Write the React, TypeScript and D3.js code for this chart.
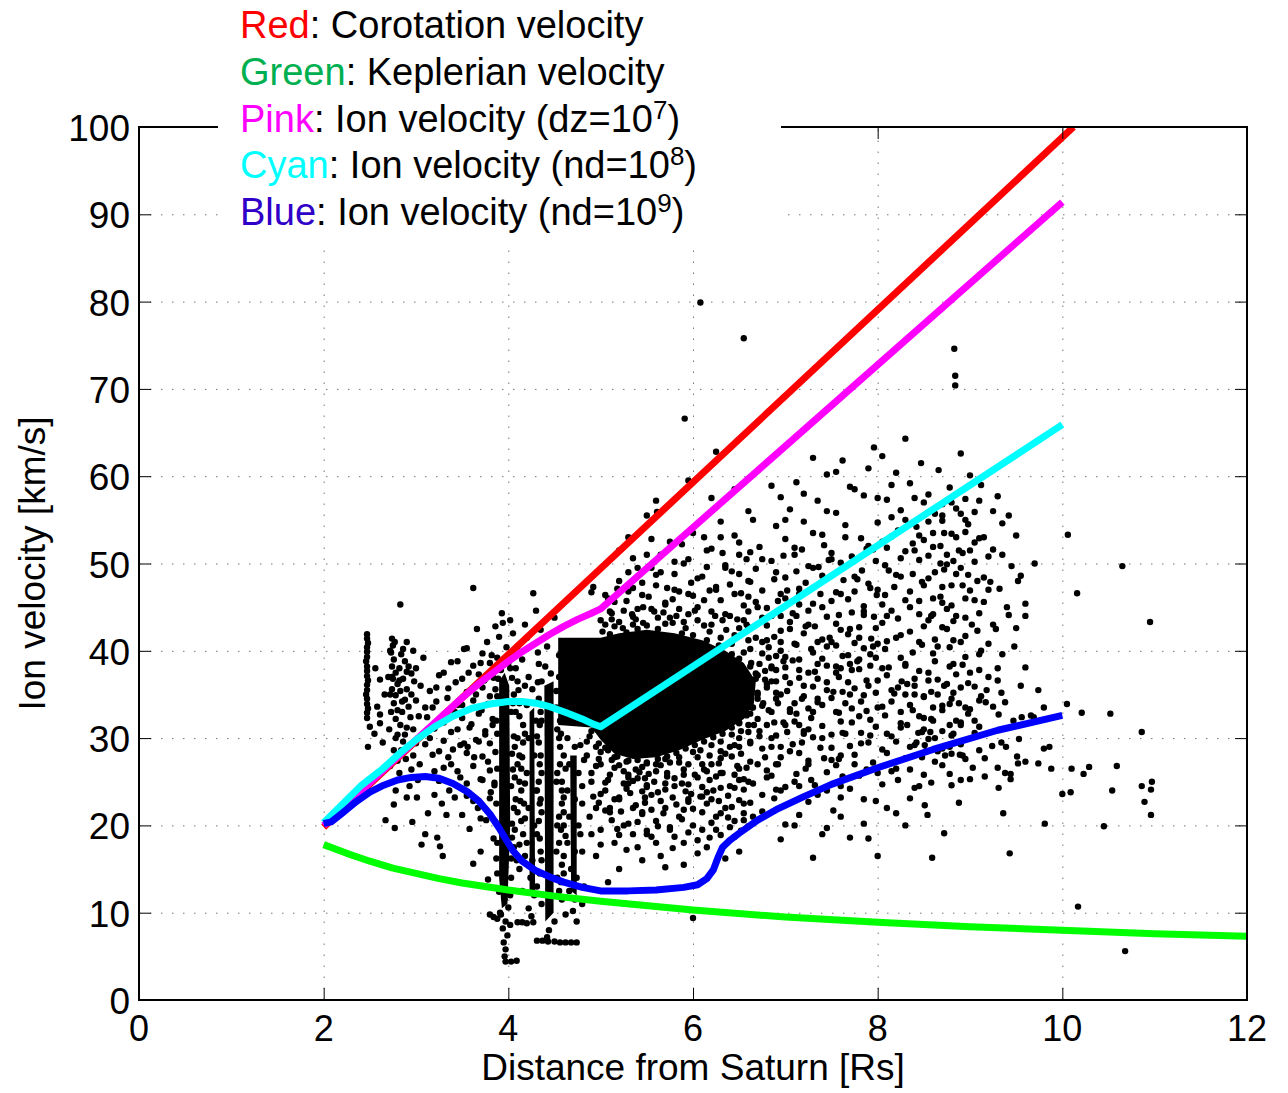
import React, { useEffect, useRef } from 'react'
import { select, scaleLinear, line } from 'd3'

// axes
const xTicks = [0, 2, 4, 6, 8, 10, 12]
const yTicks = [0, 10, 20, 30, 40, 50, 60, 70, 80, 90, 100]

// model curves [r (Rs), v (km/s)]
const corotation = [[2, 19.8], [10.12, 100]]
const keplerian = [[2, 17.8], [2.25, 16.8], [2.5, 15.9], [2.75, 15.1], [3, 14.5], [3.25, 13.9], [3.5, 13.4], [4, 12.6], [4.5, 11.9], [5, 11.3], [6, 10.3], [7, 9.5], [8, 8.9], [9, 8.4], [10, 8.0], [11, 7.6], [12, 7.3]]
const pinkIon = [[2, 20], [3, 29.8], [3.5, 34.6], [3.7, 36.4], [3.85, 37.6], [4.0, 38.8], [4.15, 39.9], [4.3, 40.9], [4.45, 41.9], [4.6, 42.8], [4.75, 43.6], [4.9, 44.3], [5.0, 44.8], [10, 91.4]]
const cyanIon = [[2, 20.3], [2.2, 22.4], [2.4, 24.5], [2.64, 26.5], [2.85, 28.5], [3.0, 29.8], [3.2, 31.3], [3.4, 32.5], [3.6, 33.4], [3.8, 33.9], [4.0, 34.2], [4.15, 34.2], [4.3, 34.0], [4.45, 33.6], [4.63, 32.9], [4.8, 32.2], [4.92, 31.6], [5.0, 31.3], [10, 65.9]]
const blueIon = [[2, 20.2], [2.08, 20.4], [2.2, 21.4], [2.35, 22.7], [2.5, 23.8], [2.65, 24.6], [2.8, 25.2], [2.95, 25.5], [3.1, 25.6], [3.25, 25.4], [3.4, 24.8], [3.55, 23.9], [3.68, 22.8], [3.8, 21.3], [3.9, 19.7], [3.98, 18.3], [4.05, 17.1], [4.15, 15.9], [4.3, 14.8], [4.45, 14.1], [4.6, 13.5], [4.8, 12.9], [5.0, 12.5], [5.3, 12.5], [5.6, 12.6], [5.9, 12.9], [6.05, 13.2], [6.15, 13.9], [6.22, 14.9], [6.27, 16.3], [6.32, 17.5], [6.4, 18.3], [6.5, 19.1], [6.7, 20.6], [6.9, 21.8], [7.2, 23.3], [7.5, 24.7], [8.0, 26.6], [8.6, 28.7], [9.3, 30.9], [10, 32.6]]

// regions where the measurements are so dense they merge into solid black
const denseCores = [
    [[4.54, 41.5], [5.0, 41.5], [5.2, 42.0], [5.5, 42.4], [5.8, 42.0], [6.1, 41.2], [6.35, 40.0], [6.55, 38.6], [6.68, 36.5], [6.66, 34.0], [6.55, 32.2], [6.35, 30.8], [6.1, 29.8], [5.85, 28.6], [5.6, 27.8], [5.35, 27.6], [5.15, 28.2], [5.0, 29.8], [4.9, 31.2], [4.54, 31.5]],
    [[3.9, 36.5], [3.96, 37.5], [4.01, 36], [4.02, 20], [3.99, 11], [3.93, 10.5], [3.9, 14]],
    [[4.23, 33], [4.28, 33.5], [4.29, 12], [4.23, 12.5]],
    [[4.39, 36], [4.49, 36.5], [4.49, 10], [4.4, 9]],
    [[4.67, 28], [4.74, 28], [4.74, 12], [4.68, 12.5]],
]

// individual measurements, "r,v": inner magnetosphere (r < 5)
const ionSamplesInner = `
2.47,32.3 2.47,32.9 2.48,33.4 2.47,33.9 2.47,34.5 2.46,35.0 2.47,35.5 2.47,36.1 2.48,36.6 2.47,37.1
2.47,37.7 2.47,38.2 2.46,38.8 2.47,39.3 2.47,39.9 2.47,40.4 2.48,40.9 2.47,41.4 2.47,41.9
2.48,29.0 2.5,31.3 2.61,31.7 2.61,32.7 2.58,33.6 2.56,38.0 2.61,36.7 2.7,37.0 2.67,20.6 2.77,19.7
2.83,45.3 2.9,23.2 3.01,23.2 3.06,17.8 2.55,30.5 2.66,35.0 2.64,29.5
2.74,41.4 2.75,40.6 2.73,39.8 2.76,39.0 2.74,38.2 2.78,37.5 2.75,36.8 2.8,36.2 2.74,35.6 2.78,34.9
2.83,35.4 2.86,36.8 2.82,38.0 2.9,37.6 2.88,34.4 2.76,34.0 2.8,33.2 2.85,33.0 2.92,33.6 2.95,35.0
2.98,36.5 3.0,34.3 2.94,32.4 2.78,32.2 2.83,31.5 2.9,31.2 2.97,31.0 3.03,32.5 2.8,30.4 2.86,29.6
2.92,29.0 2.76,28.6 3.0,29.4 2.89,27.6 2.95,26.4 2.82,26.0 3.04,27.0 2.78,24.0 2.93,24.5 3.08,39.2
3.05,36.0 2.97,40.0 2.84,39.6 2.9,41.0 3.1,33.5
2.72,40.0 2.77,41.0 2.74,37.0 2.72,35.0 2.73,33.0 2.71,31.0 2.86,40.2 2.88,38.8 2.92,38.2 2.82,36.6
2.95,37.4 3.0,38.0 2.85,34.2 2.9,35.6 2.78,30.0 2.84,28.6 2.88,30.4 2.97,28.0 2.72,26.8 2.8,27.4
3.02,25.2 2.76,22.4
2.96,20.4 3.13,21.4 3.2,23.5 3.23,18.6 3.26,17.6 3.29,16.5 3.33,21.2 3.1,19.0
3.15,30.0 3.18,33.5 3.22,35.8 3.25,28.5 3.3,31.8 3.34,34.6 3.38,27.0 3.4,28.7 3.43,36.4 3.45,31.0
3.48,25.5 3.5,33.8 3.52,29.4 3.55,23.4 3.57,37.5 3.6,31.6 3.62,47.2 3.63,27.8 3.65,35.0 3.67,22.0
3.68,29.6 3.7,38.6 3.71,33.2 3.72,25.2 3.74,36.6 3.75,30.4 3.76,20.6 3.77,41.0 3.78,27.3 3.8,34.8
3.81,23.8 3.82,39.5 3.83,31.5 3.84,18.5 3.2,26.2 3.36,24.0 3.58,19.6 3.45,38.8 3.3,37.5 3.66,42.5
3.52,40.2 3.28,22.5 3.62,15.6 3.7,17.0 3.78,13.8 3.56,29.0 3.42,33.0
3.55,40.3 3.72,39.7 3.38,38.7 3.62,38.3 3.8,38.6 3.25,37.2 3.5,36.8 3.68,37.3 3.84,36.9 3.15,35.4
3.35,35.7 3.55,35.3 3.72,35.8 3.22,34.2 3.45,33.8 3.62,34.3 3.78,33.9 3.12,32.4 3.3,32.7 3.5,32.3
3.68,32.8 3.83,32.2 3.2,31.1 3.38,30.7 3.58,31.2 3.75,30.8 3.1,29.3 3.3,29.7 3.48,29.2 3.65,29.8
3.8,29.4 3.18,28.1 3.35,27.8 3.55,28.3 3.72,27.9 3.3,26.6 3.45,26.2 3.62,26.8 3.8,26.3 3.25,25.1
3.55,24.8 3.7,25.3 3.85,24.9 3.42,23.2 3.62,22.8 3.8,23.1 3.5,21.2 3.7,20.8
3.86,42.8 3.9,41.6 3.94,43.2 3.98,40.4 3.88,39.2 4.0,38.6 3.92,37.8 4.04,36.9 3.86,35.6 4.05,34.0
3.87,32.0 4.06,30.2 3.86,28.4 4.05,26.4 3.85,24.6 4.06,22.0 3.86,20.4 4.04,18.6 3.87,16.2 4.03,14.0
3.9,12.4 3.96,11.6 4.0,10.6 3.92,9.8 3.97,9.0 3.94,8.2 3.99,7.4 3.95,6.6 3.97,5.8 3.96,5.0
3.97,4.4 4.03,4.4 4.09,4.5 3.91,10.0 3.88,9.3 3.84,9.5 3.8,9.8 4.02,8.6
3.88,34.8 4.03,33.0 3.88,30.5 4.04,28.2 3.88,26.5 4.03,24.5 3.87,22.5 4.04,20.2 3.88,18.0 4.03,16.2
3.88,14.5 4.02,12.0 3.89,36.8 4.02,38.0
4.22,37.0 4.26,35.6 4.2,33.8 4.3,32.0 4.22,30.0 4.28,28.0 4.2,26.0 4.3,24.0 4.22,22.0 4.28,20.0
4.2,18.0 4.26,16.0 4.24,14.0 4.28,12.0 4.22,10.5 4.25,9.6 4.1,8.9 4.15,8.9 4.2,8.8 4.27,8.9
4.4,38.2 4.46,37.4 4.36,36.5 4.52,35.4 4.35,33.0 4.53,31.0 4.35,28.0 4.53,26.0 4.35,23.0 4.53,20.0
4.35,17.0 4.53,14.0 4.36,11.0 4.5,9.0 4.44,8.0 4.42,7.2 4.31,6.8 4.37,6.8 4.43,6.7 4.5,6.7
4.56,6.6 4.62,6.6 4.68,6.6 4.74,6.6
4.64,30.0 4.72,29.0 4.66,27.0 4.76,26.0 4.64,24.0 4.72,23.0 4.66,21.0 4.76,20.0 4.64,18.0 4.72,17.0
4.68,15.0 4.74,14.0 4.66,12.5 4.72,11.5 4.7,10.2 4.74,9.0 4.58,25 4.6,20.0 4.8,22.5 4.8,17
4.58,15.5 4.82,27.5
4.1,30.0 4.12,25.0 4.14,20.5 4.11,35.5 4.15,39.0 4.58,34.0 4.56,29.0 4.6,37.5 4.12,15.0 4.15,12.5
4.08,33.0 4.12,28.0 4.16,31.5 4.08,23.0 4.33,34.5 4.33,29.5 4.33,25.0 4.33,20.5 4.56,32.0 4.56,27.0
4.58,22.5 4.1,36.5 4.18,36.0 4.14,26.5 4.06,17.5 4.17,22.5 4.55,18.0 4.58,11.5
4.08,38.0 4.12,34.0 4.16,29.5 4.1,27.0 4.14,24.0 4.1,21.5 4.16,19.0 4.09,16.0 4.33,38.5 4.34,31.5
4.34,27.0 4.34,22.5 4.34,18.5 4.34,14.5 4.57,35.5 4.57,30.5 4.6,28.0 4.58,24.0 4.6,21.5 4.57,19.5
4.6,16.5 4.57,13.5
4.06,35.0 4.12,32.5 4.18,30.5 4.07,29.0 4.15,27.8 4.07,25.5 4.18,24.8 4.13,22.8 4.07,19.5 4.18,20.8
4.12,17.8 4.18,16.5 4.32,36.4 4.36,32.0 4.31,30.2 4.36,26.0 4.31,24.0 4.36,21.5 4.31,19.0 4.36,16.0
4.31,13.0 4.55,37.0 4.52,33.5 4.6,32.6 4.55,30.0 4.62,26.5 4.52,25.0 4.6,23.2 4.55,21.0 4.62,18.8
4.52,17.0 4.6,14.5 4.55,12.5 4.62,9.8 4.78,19.0 4.8,24.5 4.78,29.2 4.82,13.0 4.8,11.0
4.05,42.0 4.1,40.5 4.2,41.5 4.32,39.8 4.35,42.4 4.42,40.5 4.5,43.8 4.55,39.5 4.3,44.6 4.18,43.0
3.93,44.3 4.02,43.5 4.27,46.6 4.9,46.7 4.92,47.3
`

// individual measurements, "r,v": outer cloud (r >= 5)
const ionSamplesOuter = `
5.1,44.5
4.9,30.8 4.98,29.4 5.08,28.6 5.18,27.9 5.28,27.3 5.4,27.5 5.5,27.2 5.62,27.6 5.72,27.9 5.82,28.3
5.92,28.8 6.02,29.2 6.12,29.6 6.22,30.1 6.32,30.5 6.42,31.2 6.5,31.7 6.58,32.6 6.64,33.5 6.7,35.2
6.68,37.4 6.62,38.2 6.5,39.1 6.42,39.6 6.28,40.6 6.15,41.2 6.0,41.8 5.88,42.0 5.62,42.5 5.4,42.5
5.28,42.1 5.1,41.9
5.0,43.5 5.08,46.0 5.15,42.8 5.2,48.0 5.25,44.6 5.3,46.8 5.35,43.9 5.4,49.5 5.45,46.4 5.46,45.0
5.5,51.0 5.55,44.8 5.6,47.5 5.6,57.2 5.61,55.9 5.65,49.0 5.7,45.5 5.75,52.5 5.8,47.0 5.85,44.8
5.9,50.0 5.95,46.5 6.0,53.5 6.05,45.0 6.1,48.5 6.15,51.5 6.2,44.5 6.25,47.0 6.3,53.0 6.35,49.5
6.4,44.0 6.45,46.5 6.5,51.0 6.55,43.5 6.6,48.0 6.65,55.0 6.7,45.0 6.75,50.5 5.91,66.6 6.25,62.8
6.08,79.9 6.55,75.8 5.3,53.0 5.5,55.5 6.2,57.5 6.45,58.5 5.2,51.5 5.95,59.5
5.05,43.0 5.2,43.3 5.38,43.6 5.5,42.9 5.62,43.8 5.78,43.2 5.92,42.6 6.05,43.5 6.18,42.2 6.3,41.5
6.42,40.8 6.55,39.8 6.63,38.6 6.68,36.8 6.7,34.5 6.62,32.8 6.5,31.8
6.68,41.5 6.72,38.5 6.7,35.0 6.66,31.5 6.5,30.0 6.3,28.5 6.1,27.0 5.9,25.8 5.7,24.8 5.5,24.6
5.3,24.8 5.1,25.8 4.98,27.6 4.85,29.6 6.45,41.8 6.2,43.0 5.75,43.8 5.35,43.0
5.02,42.2 5.12,43.6 5.24,42.6 5.34,44.2 5.46,43.2 5.58,44.5 5.7,43.1 5.82,44.0 5.9,43.3 6.02,44.6
6.12,42.9 6.24,44.0 6.36,42.4 6.48,43.6 6.6,41.2 6.58,43.0
6.62,40.2 6.75,41.0 6.82,39.2 6.7,37.2 6.8,36.2 6.9,37.8 6.76,34.0 6.85,33.0 6.95,35.0 6.72,30.8
6.88,31.8 6.62,29.4 6.95,29.0 6.98,38.8 6.95,40.0
5.05,28.9 5.15,27.8 5.25,26.2 5.38,26.4 5.48,25.4 5.6,27.0 5.72,26.0 5.85,27.8 5.95,27.0 6.08,28.6
6.18,28.0 6.3,29.6 6.4,29.0 6.52,30.8 4.95,29.0 5.02,30.4 4.88,30.2
4.88,21.0 4.9,19.0 5.0,17.8 5.18,19.6 5.28,17.2 5.35,19.0 5.6,18.0 5.78,17.4 5.95,19.2 6.18,18.6
6.4,19.8 5.45,16.0 5.7,15.2 6.25,21.0 6.55,20.6
5.0,27.0 5.15,26.6 5.3,25.8 5.45,26.7 5.6,26.2 5.75,27.2 5.9,26.4 6.05,27.8 6.2,27.0 6.35,28.2
6.5,29.0 6.6,31.5 6.65,33.5 4.9,26.0 5.08,25.2 5.25,24.8 5.4,25.4 5.58,25.0 5.72,25.6 5.88,24.8
6.02,25.8 6.18,25.2 6.32,26.0 6.48,26.8 5.0,23.6 5.15,23.0 5.32,23.7 5.48,23.2 5.62,23.8 5.78,23.2
5.92,23.9 6.08,23.3 6.22,24.0 6.38,23.4 6.55,24.1 5.1,22.0 5.38,22.3 5.55,21.8 5.82,22.4 6.0,21.9
6.15,22.5 6.42,22.1 6.62,22.6
4.85,28.0 4.9,25.0 4.95,22.0 5.0,19.5 5.05,24.0 5.1,21.5 5.12,27.5 5.15,18.0 5.2,23.0 5.25,20.0
5.3,25.5 5.35,22.0 5.4,17.5 5.45,21.5 5.5,19.0 5.55,23.5 5.6,20.5 5.65,16.5 5.7,22.0 5.75,19.5
5.8,24.5 5.85,21.0 5.9,18.0 5.95,23.0 6.0,20.0 6.05,25.5 6.1,21.5 6.15,17.5 6.2,23.0 6.25,19.5
6.3,26.0 6.35,22.0 6.4,24.5 6.45,20.5 6.5,26.5 6.55,22.5 6.6,25.0 6.65,21.0 6.7,27.0 6.75,23.5
6.8,25.5 6.0,9.4 6.5,17.0 6.35,16.2 5.9,15.5 6.05,16.8 4.95,16.5 5.2,15.0 5.08,13.5
5.0,28.4 5.3,27.4 5.5,27.1 5.7,27.6 6.0,28.4 6.2,29.2 6.42,30.4 4.95,26.8 5.2,26.9 5.42,26.1
5.65,26.9 5.85,27.2 6.12,26.4 6.28,27.1 6.42,27.9 5.05,24.9 5.35,25.1 5.52,25.9 5.8,25.4 6.1,24.4
6.25,25.6 6.5,25.2 4.92,23.3 5.28,24.2 5.45,23.9 5.7,24.1 5.98,23.6 6.15,23.8 6.45,24.3 4.98,22.6
5.22,21.6 5.48,22.6 5.68,21.4 5.95,22.7 6.28,22.8 6.55,21.4 5.12,20.6 5.4,20.4 5.62,19.9 5.88,20.7
6.1,19.5 6.38,20.9 6.52,19.4 5.2,18.9 5.5,19.4 5.8,18.7 6.3,18.9
5.12,44.3 5.4,44.8 5.68,44.4 5.95,44.2 6.32,43.5 6.5,42.6 5.05,46.4 5.28,45.7 5.52,46.2 5.78,45.9
6.0,46.3 6.3,45.8 6.6,46.2 5.18,47.1 5.45,47.8 5.72,47.2 5.98,47.8 6.18,46.9 6.4,47.6 5.3,49.0
5.55,49.5 5.8,48.8 6.15,49.6 6.42,49.1 5.35,50.6 5.65,51.0 5.95,50.5 6.32,51.2 5.55,52.8 5.88,52.2
6.12,53.0 6.5,52.4
6.85,30.0 6.85,38.0 6.85,44.0 6.9,27.0 6.9,34.5 6.9,49.0 6.95,41.0 6.95,24.0 7.0,31.5 7.0,37.0
7.0,46.0 7.0,55.0 7.05,28.5 7.05,42.5 7.1,34.0 7.1,51.0 7.1,25.0 7.15,39.0 7.15,46.5 7.2,30.5
7.2,36.0 7.2,58.0 7.25,43.0 7.25,27.0 7.3,33.0 7.3,49.5 7.3,53.5 7.35,38.5 7.35,23.5 7.4,30.0
7.4,45.0 7.45,35.5 7.45,56.0 7.5,27.5 7.5,41.0 7.5,50.5 7.55,33.0 7.55,60.5 7.6,38.0 7.6,24.5
7.6,46.5 7.65,30.5 7.65,53.0 7.7,35.0 7.7,42.5 7.75,27.0 7.75,48.5 7.75,58.5 7.8,32.5 7.8,39.0
7.85,44.5 7.85,23.0 7.9,29.5 7.9,36.0 7.9,52.0 7.95,40.5 7.96,63.3 8.0,33.5 8.0,47.0 8.0,26.0
8.0,57.5 6.9,36.5 7.05,33.0 7.15,31.5 7.25,37.5 7.35,34.5 7.45,40.5 7.55,37.5 7.65,34.0 7.7,38.5
7.8,41.5 7.35,41.0 7.12,44.0 6.95,46.5 7.6,28.0 7.25,31.0
6.72,51.9 7.18,51.6 7.42,52.1 7.88,51.7 6.58,50.5 6.98,50.9 7.47,50.4 7.72,50.8 7.98,50.3 6.68,49.4
7.12,49.1 7.36,49.6 7.83,49.2 6.62,47.9 6.88,48.2 7.22,47.8 7.63,48.1 7.9,47.7 6.52,46.6 7.02,46.9
7.38,46.5 7.75,46.8 7.99,46.4 6.68,45.6 6.8,44.9 7.15,45.3 7.5,45.7 7.85,45.1 6.6,44.5 6.95,44.0
7.25,44.6 7.58,44.1 7.72,44.4 7.96,43.9 6.8,42.9 7.05,43.3 7.32,42.8 7.55,43.1 7.8,42.7 6.88,41.6
7.2,42.0 7.48,41.5 7.68,41.9 7.93,41.4 6.82,40.4 7.12,40.7 7.28,40.2 7.55,40.6 7.85,40.3 8.0,40.8
6.9,39.4 7.08,38.9 7.4,39.1 7.68,39.5 7.78,38.8 7.98,39.2 6.78,37.7 7.0,38.1 7.32,37.6 7.55,38.2
7.72,37.8 7.92,38.3 6.85,36.5 7.15,36.9 7.45,36.4 7.58,37.0 7.88,36.6 6.8,35.8 7.02,35.4 7.3,35.9
7.62,35.3 7.75,35.7 7.98,35.2 6.92,34.0 7.18,34.5 7.35,34.1 7.5,34.6 7.82,34.2 6.82,33.2 7.12,32.8
7.25,33.4 7.58,32.9 7.88,33.1 6.8,31.5 7.1,31.9 7.4,31.4 7.72,31.8 7.98,31.3 6.72,30.2 7.02,30.7
7.3,30.1 7.62,30.6 7.92,30.3 6.62,29.6 6.85,29.0 7.18,29.5 7.5,28.9 7.82,29.4 6.52,28.2 6.78,27.8
7.15,28.3 7.42,27.7 7.75,28.1 6.58,26.6 6.92,27.0 7.22,26.5 7.55,26.9 7.88,26.4 6.55,25.3 6.85,25.7
7.28,25.2 7.62,25.6 6.9,24.1 7.15,24.5 7.45,24.0
7.62,61.8 8.05,62.3 8.47,61.5 8.9,62.6 7.3,62.1 7.45,60.2 7.9,60.9 8.2,60.4 8.66,60.7 9.0,60.1
7.12,59.3 7.7,58.8 8.35,59.2 8.78,58.7 9.12,59.0 6.85,58.9 6.95,57.6 7.35,57.2 7.85,57.8 8.1,57.3
8.55,57.9 8.95,57.4 9.3,57.7 7.05,56.2 7.55,55.8 8.25,56.1 8.62,55.7 8.85,56.3 9.05,55.9 6.6,56.0
6.9,54.3 7.2,54.8 7.65,54.4 8.0,54.7 8.42,54.2 8.7,54.9 8.98,54.5 9.35,54.6 6.3,54.8 6.45,53.2
7.0,52.8 7.4,53.3 7.82,52.9 8.15,53.1 8.5,52.7 8.8,53.4 9.1,52.9 9.5,53.2 6.2,51.7 6.62,51.3
7.1,51.8 7.5,51.2 7.95,51.6 8.3,51.4 8.6,51.9 8.92,51.2 9.25,51.6 5.8,50.2 6.35,49.8 6.85,50.3
7.25,49.7 7.6,50.1 8.08,49.8 8.45,50.4 8.75,49.9 9.05,50.2 9.45,49.7 5.6,48.7 6.05,48.3 6.5,48.8
7.0,48.4 7.4,48.6 7.78,48.2 8.2,48.7 8.55,48.3 8.85,48.8 9.15,48.4 9.55,48.6 5.35,47.2 5.85,46.8
6.25,47.3 6.75,46.9 7.15,47.1 7.55,46.7 7.92,47.2 8.35,46.8 8.7,47.3 9.0,46.9 9.32,47.1 5.15,45.6
5.7,45.3 6.12,45.8 6.55,45.2 6.92,45.7 7.3,45.4 7.68,45.9 8.05,45.3 8.45,45.7 8.8,45.2 9.15,45.6
9.6,45.4 6.35,44.2 6.75,43.8 7.08,44.3 7.45,43.9 7.85,44.1 8.22,43.7 8.6,44.2 8.95,43.8 9.42,44.1
6.6,42.7 6.95,42.3 7.22,42.8 7.6,42.4 7.98,42.6 8.35,42.2 8.7,42.7 9.08,42.3 9.5,42.6 6.8,41.2
7.1,40.8 7.4,41.3 7.75,40.9 8.1,41.1 8.48,40.7 8.82,41.2 9.2,40.8 6.75,39.7 7.0,39.3 7.3,39.8
7.62,39.4 7.92,39.6 8.25,39.2 8.6,39.7 8.95,39.3 9.35,39.6 6.85,38.2 7.15,37.8 7.45,38.3 7.8,37.9
8.12,38.1 8.45,37.7 8.78,38.2 9.1,37.8 9.6,38.1 6.78,36.7 7.05,36.3 7.35,36.8 7.68,36.4 8.0,36.6
8.32,36.2 8.65,36.7 8.98,36.3 9.3,36.6 6.9,35.2 7.2,34.8 7.52,35.3 7.85,34.9 8.18,35.1 8.5,34.7
8.82,35.2 9.12,34.8 6.75,33.7 7.05,33.3 7.4,33.8 7.72,33.4 8.05,33.6 8.38,33.2 8.7,33.7 9.0,33.3
9.25,33.6 6.7,32.2 6.98,31.8 7.28,32.3 7.6,31.9 7.92,32.1 8.25,31.7 8.58,32.2 8.9,31.8 6.6,30.7
6.9,30.3 7.2,30.8 7.5,30.4 7.82,30.6 8.15,30.2 8.48,30.7 8.8,30.3 9.05,30.6 6.45,29.2 6.75,28.8
7.08,29.3 7.38,28.9 7.7,29.1 8.05,28.7 8.4,29.2 8.7,28.8 6.3,27.7 6.62,27.3 6.95,27.8 7.25,27.4
7.58,27.6 7.95,27.2 8.3,27.7 8.62,27.3 8.95,27.6 6.15,26.2 6.45,25.8 6.8,26.3 7.12,25.9 7.45,26.1
7.8,25.7 8.15,26.2 8.5,25.8 5.5,24.4 5.95,24.7 6.3,24.3 6.65,24.8 7.0,24.4 7.32,24.6 7.7,24.2
8.05,24.7 8.4,24.3 8.8,24.6 5.2,23.2 5.65,22.8 6.1,23.3 6.5,22.9 6.88,23.1 7.25,22.7 7.6,23.2
7.98,22.8 8.35,23.1 5.05,21.7 5.45,21.3 5.9,21.8 6.3,21.4 6.75,21.6 7.15,21.2 7.52,21.7 8.2,21.4
5.3,20.2 5.75,19.8 6.2,20.3 6.6,19.9 7.0,20.1 7.45,19.7 7.85,20.2 5.55,18.7 6.05,18.3 6.45,18.7
6.95,18.4 7.7,18.6
8.05,38.0 8.05,52.5 8.1,30.5 8.1,44.0 8.15,35.5 8.15,59.0 8.2,41.5 8.2,26.5 8.25,48.5 8.25,33.0
8.3,64.3 8.3,38.5 8.3,55.0 8.35,29.0 8.35,45.0 8.4,35.0 8.4,51.5 8.45,41.0 8.45,24.5 8.5,47.5
8.5,31.0 8.5,57.0 8.55,37.5 8.55,43.5 8.6,53.5 8.6,33.5 8.62,49.0 8.65,40.5 8.65,28.5 8.7,45.5
8.7,55.5 8.72,36.0 8.75,51.0 8.75,42.5 8.78,31.5 8.8,47.5 8.8,57.0 8.82,38.5 8.85,44.0 8.85,53.0
8.88,34.0 8.9,49.5 8.9,41.0 8.92,28.0 8.95,46.0 8.95,55.0 9.0,37.5 9.0,51.5 9.02,43.0 9.05,32.0
9.08,48.0 8.83,74.6 8.84,71.5 8.84,70.4 8.6,46.0 8.68,50.0 8.58,44.0 8.88,51.5 8.72,53.5
8.26,36.5 8.3,35.0 8.35,33.8 8.4,36.0 8.45,32.5 8.5,34.8 8.55,36.6 8.6,32.0 8.65,35.0 8.7,33.2
8.75,36.2 8.8,34.5 8.85,32.0 8.9,35.8 8.95,33.5 8.32,31.5 8.42,29.5 8.62,30.0 8.82,30.5 8.9,31.5
8.4,57.5 8.7,56.8 9.1,57.2 8.15,55.3 8.55,54.8 8.9,55.7 8.22,53.8 8.45,53.2 8.95,53.6 8.1,51.8
8.38,52.3 8.68,52.0 9.05,52.4 8.25,50.6 8.55,50.9 8.82,50.3 9.2,50.8 8.12,49.2 8.38,48.8 8.72,49.3
8.98,48.7 8.18,47.3 8.48,47.9 8.92,47.5 9.22,47.9 8.08,46.4 8.3,45.8 8.68,46.2 9.05,45.8 8.15,44.6
8.45,44.2 8.75,44.8 9.1,44.3 8.05,43.2 8.5,42.8 8.82,43.4 9.25,43.0 8.25,41.8 8.62,41.3 8.95,41.7
8.08,40.2 8.38,39.8 8.78,40.4 9.1,39.6 8.3,38.3 8.62,38.8 8.92,38.4 8.1,37.2 8.4,36.8 8.85,37.3
9.2,37.0 8.22,35.8 8.58,35.3 9.05,35.9 8.15,34.2 8.78,33.9 9.1,34.3 8.08,32.6 8.5,32.3 8.98,32.8
8.25,31.2 8.7,30.8 9.1,31.3 8.2,29.6 8.55,29.9 8.9,29.3 8.1,28.3 8.48,27.8 8.8,28.2 8.35,26.4
8.7,26.9 8.22,25.2 8.58,24.9 9.0,25.3
9.12,40.0 9.15,53.0 9.18,35.5 9.2,47.0 9.25,56.0 9.28,42.5 9.3,38.0 9.35,51.0 9.4,45.0 9.42,55.5
9.48,40.5 9.52,48.0 9.55,36.0 9.6,44.0 9.7,50.0
7.1,20.0 7.4,19.0 7.6,21.0 7.9,18.5 8.1,22.0 8.3,20.0 7.3,16.3 8.0,16.5
10.05,33.9 10.21,32.9 10.52,32.8 10.86,30.7 10.1,26.5 10.23,25.9 10.29,26.7 10.59,26.8 10.0,23.6 10.09,23.8
10.54,24.0 10.86,24.5 10.96,24.1 10.97,25.0 10.89,22.7 10.96,21.2 10.45,19.9 10.17,10.7 10.68,5.6 9.81,20.2
9.43,16.8 9.36,21.4 8.72,19.1 8.59,16.3 8.88,22.6 8.51,22.3 8.54,21.2 9.31,24.3 9.3,26.6 9.38,26.0
9.44,25.9 9.44,25.3 9.16,25.6 9.16,27.7 9.03,26.6 8.9,25.2 8.78,25.9 9.74,27.1 9.88,26.5 9.6,27.3
9.52,27.1 9.51,27.9 9.8,28.8 9.86,29.0 9.53,29.9 9.34,29.5 9.24,29.1 9.39,29.0 9.1,28.6 9.74,35.5
9.8,33.5 9.34,35.2 9.38,34.1 9.17,34.1 9.31,32.7 9.47,32.0 9.56,32.4 9.66,32.6 9.69,32.4 8.51,29.2
8.52,28.5 8.44,30.6 8.57,30.7 8.78,29.0 8.73,28.0 8.89,28.1
10.06,53.3 10.16,46.6 10.65,49.7 10.95,43.3
`

const legendItems = [
    { key: 'Red', color: '#ff0000', text: ': Corotation velocity', sup: '', tail: '' },
    { key: 'Green', color: '#00b050', text: ': Keplerian velocity', sup: '', tail: '' },
    { key: 'Pink', color: '#ff00ff', text: ': Ion velocity (dz=10', sup: '7', tail: ')' },
    { key: 'Cyan', color: '#00ffff', text: ': Ion velocity (nd=10', sup: '8', tail: ')' },
    { key: 'Blue', color: '#3000c8', text: ': Ion velocity (nd=10', sup: '9', tail: ')' },
]

const curves = [
    { key: 'keplerian', data: keplerian, color: '#00ff00' },
    { key: 'corotation', data: corotation, color: '#ff0000' },
    { key: 'pink', data: pinkIon, color: '#ff00ff' },
    { key: 'cyan', data: cyanIon, color: '#00ffff' },
    { key: 'blue', data: blueIon, color: '#0000ff' },
]

const font = '"Liberation Sans", Arial, Helvetica, sans-serif'

const parseSamples = (txt: string) => txt.trim().split(/\s+/).map((s) => s.split(',').map(Number))

const IonChart = () => {
    const ref = useRef<SVGSVGElement | null>(null)

    useEffect(() => {
        const config = {
            width: 1288,
            height: 1093,
            left: 139,
            right: 1247,
            top: 127,
            bottom: 1000,
            tick: 12,
            dotr: 3.2,
            linew: 7,
        }

        const points = parseSamples(ionSamplesInner).concat(parseSamples(ionSamplesOuter))

        const svg = select(ref.current)
        svg.selectAll('*').remove()
        svg.attr('width', config.width).attr('height', config.height)
            .style('font-family', font)

        const xScale = scaleLinear().domain([0, 12]).range([config.left, config.right])
        const yScale = scaleLinear().domain([0, 100]).range([config.bottom, config.top])

        svg.append('rect').attr('width', config.width).attr('height', config.height).attr('fill', '#fff')

        svg.append('clipPath').attr('id', 'plotclip').append('rect')
            .attr('x', config.left).attr('y', config.top)
            .attr('width', config.right - config.left).attr('height', config.bottom - config.top)

        // dotted grid
        const grid = svg.append('g').attr('stroke', '#777').attr('stroke-width', 1).attr('stroke-dasharray', '1.5 9.5')
        grid.selectAll('.gx').data(xTicks.slice(1, -1)).join('line').attr('class', 'gx')
            .attr('x1', (d) => xScale(d) + 0.5).attr('x2', (d) => xScale(d) + 0.5)
            .attr('y1', config.bottom).attr('y2', config.top)
        grid.selectAll('.gy').data(yTicks.slice(1, -1)).join('line').attr('class', 'gy')
            .attr('y1', (d) => yScale(d) + 0.5).attr('y2', (d) => yScale(d) + 0.5)
            .attr('x1', config.left).attr('x2', config.right)

        const plot = svg.append('g').attr('clip-path', 'url(#plotclip)')

        // measurements
        plot.selectAll('.core').data(denseCores).join('path').attr('class', 'core')
            .attr('d', (d) => 'M' + d.map((p) => `${xScale(p[0])},${yScale(p[1])}`).join('L') + 'Z')
            .attr('fill', '#000')
        plot.selectAll('.dot').data(points).join('circle').attr('class', 'dot')
            .attr('cx', (d) => xScale(d[0]))
            .attr('cy', (d) => yScale(d[1]))
            .attr('r', config.dotr)
            .attr('fill', '#000')

        // model curves
        const gen = line<number[]>()
            .x((d) => xScale(d[0]))
            .y((d) => yScale(d[1]))
        curves.forEach((c) => {
            plot.append('path').datum(c.data)
                .attr('d', gen)
                .attr('fill', 'none')
                .attr('stroke', c.color)
                .attr('stroke-width', config.linew)
                .attr('stroke-linejoin', 'round')
        })

        // box and ticks
        const axis = svg.append('g').attr('stroke', '#000')
        axis.append('rect')
            .attr('x', config.left).attr('y', config.top)
            .attr('width', config.right - config.left).attr('height', config.bottom - config.top)
            .attr('fill', 'none').attr('stroke-width', 2)
        xTicks.forEach((t) => {
            axis.append('line').attr('x1', xScale(t) + 0.5).attr('x2', xScale(t) + 0.5)
                .attr('y1', config.bottom).attr('y2', config.bottom - config.tick).attr('stroke-width', 1)
            axis.append('line').attr('x1', xScale(t) + 0.5).attr('x2', xScale(t) + 0.5)
                .attr('y1', config.top).attr('y2', config.top + config.tick).attr('stroke-width', 1)
        })
        yTicks.forEach((t) => {
            axis.append('line').attr('y1', yScale(t) + 0.5).attr('y2', yScale(t) + 0.5)
                .attr('x1', config.left).attr('x2', config.left + config.tick).attr('stroke-width', 1)
            axis.append('line').attr('y1', yScale(t) + 0.5).attr('y2', yScale(t) + 0.5)
                .attr('x1', config.right).attr('x2', config.right - config.tick).attr('stroke-width', 1)
        })

        // tick labels
        svg.selectAll('.xlab').data(xTicks).join('text').attr('class', 'xlab')
            .attr('x', (d) => xScale(d)).attr('y', config.bottom + 41)
            .attr('text-anchor', 'middle').attr('font-size', 36)
            .text((d) => d)
        svg.selectAll('.ylab').data(yTicks).join('text').attr('class', 'ylab')
            .attr('x', config.left - 9).attr('y', (d) => yScale(d) + 14)
            .attr('text-anchor', 'end').attr('font-size', 37)
            .text((d) => d)

        svg.append('text').attr('x', (config.left + config.right) / 2).attr('y', 1080)
            .attr('text-anchor', 'middle').attr('font-size', 37)
            .text('Distance from Saturn [Rs]')
        svg.append('text').attr('transform', `translate(45, ${(config.top + config.bottom) / 2}) rotate(-90)`)
            .attr('text-anchor', 'middle').attr('font-size', 37)
            .text('Ion velocity [km/s]')

        // legend on a white box over the top of the axes
        svg.append('rect').attr('x', 218).attr('y', 0).attr('width', 563).attr('height', 242).attr('fill', '#fff')
        const legend = svg.selectAll('.leg').data(legendItems).join('text').attr('class', 'leg')
            .attr('x', 240).attr('y', (d, i) => 38 + i * 46.8)
            .attr('font-size', 38)
        legend.append('tspan').attr('fill', (d) => d.color).text((d) => d.key)
        legend.append('tspan').attr('fill', '#000').text((d) => d.text)
        legend.append('tspan').attr('fill', '#000').attr('font-size', 26).attr('dy', -13).text((d) => d.sup)
        legend.append('tspan').attr('fill', '#000').attr('dy', (d) => d.sup ? 13 : 0).text((d) => d.tail)
    }, [])

    return <svg ref={ref} style={{ display: 'block' }} />
}

export default function App() {
    return (
        <div style={{ position: 'absolute', left: 0, top: 0 }}>
            <IonChart />
        </div>
    )
}
